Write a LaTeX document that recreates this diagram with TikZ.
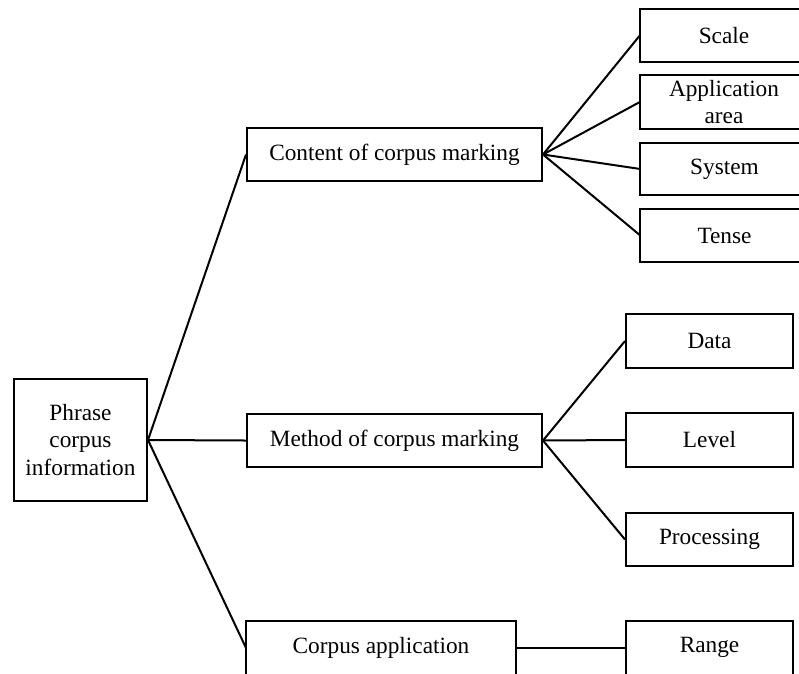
\documentclass[tikz,border=0pt]{standalone}
\usepackage{fontspec}
\setmainfont{Liberation Serif}
\begin{document}
\begin{tikzpicture}[x=1pt,y=-1pt,
  box/.style={draw=black,line width=2pt,rectangle,inner sep=0pt,align=center,
    font=\fontsize{23.3}{27.5}\selectfont},
  openbox/.style={draw=none,rectangle,inner sep=0pt,align=center,
    font=\fontsize{23.3}{27.5}\selectfont},
  link/.style={line width=2pt,black}]
\useasboundingbox (0,0) rectangle (799,673);
\clip (0,0) rectangle (799,673);
\fill[white] (0,0) rectangle (799,673);
% left
\node[box,minimum width=133pt,minimum height=122pt] (root) at (80.5,440) {Phrase\\corpus\\information};
% middle column
\node[box,minimum width=295pt,minimum height=53pt] (content) at (394.5,154.5) {Content of corpus marking};
\node[box,minimum width=295pt,minimum height=53pt] (method) at (394.5,440.5) {Method of corpus marking};
\node[openbox,minimum width=270pt,minimum height=53pt] (capp) at (381,647.5) {Corpus application};
% top right (right edges run past the picture)
\node[openbox,minimum width=168pt,minimum height=53pt] (scale) at (724,35.5) {Scale};
\node[openbox,minimum width=168pt,minimum height=54pt] (area) at (724,102) {Application\\area};
\node[openbox,minimum width=168pt,minimum height=52pt] (system) at (724.5,169) {System};
\node[openbox,minimum width=168pt,minimum height=53pt] (tense) at (724.5,235.5) {Tense};
\foreach \n in {scale,area,system,tense}
  \draw[link] ([xshift=20pt]\n.north east) -- (\n.north west) -- (\n.south west) -- ([xshift=20pt]\n.south east);
% middle right
\node[box,minimum width=167pt,minimum height=54pt] (data) at (709.5,341) {Data};
\node[box,minimum width=167pt,minimum height=54pt] (level) at (709.5,440) {Level};
\node[box,minimum width=167pt,minimum height=53pt] (proc) at (709.5,539.5) {Processing};
% bottom right (bottom edges run past the picture)
\node[openbox,minimum width=167pt,minimum height=53pt] (range) at (709.5,647.5) {Range};
\foreach \n in {capp,range}
  \draw[link] ([yshift=-20pt]\n.south west) -- (\n.north west) -- (\n.north east) -- ([yshift=-20pt]\n.south east);
% connectors
\draw[link] (root.east) -- (content.west);
\draw[link] (root.east) -- (method.west);
\draw[link] (root.east) -- (capp.west);
\draw[link] (content.east) -- (scale.west);
\draw[link] (content.east) -- (area.west);
\draw[link] (content.east) -- (system.west);
\draw[link] (content.east) -- (tense.west);
\draw[link] (method.east) -- (data.west);
\draw[link] (method.east) -- (level.west);
\draw[link] (method.east) -- (proc.west);
\draw[link] (capp.east) -- (range.west);
\end{tikzpicture}
\end{document}
